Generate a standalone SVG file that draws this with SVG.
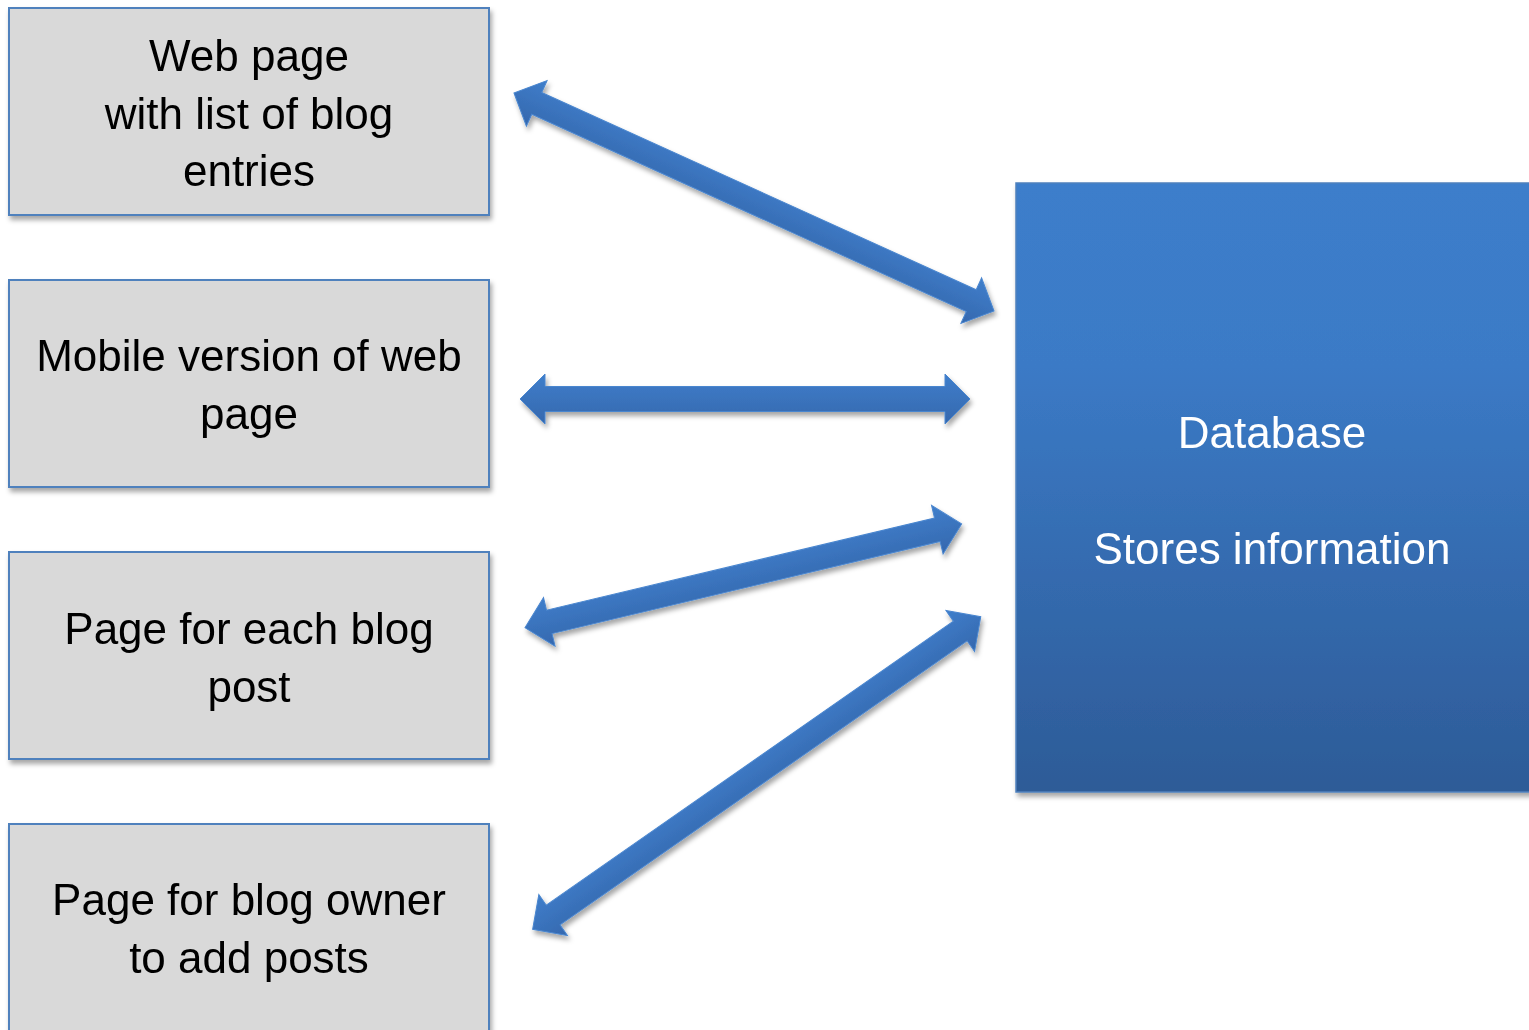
<svg xmlns="http://www.w3.org/2000/svg" width="1529" height="1030" viewBox="0 0 1529 1030">
<defs>
<style>
.box{fill:#d9d9d9;stroke:#4f81bd;stroke-width:2}
.lbl{font-family:"Liberation Sans",Arial,sans-serif;font-size:44px;fill:#000;text-anchor:middle}
.dbl{font-family:"Liberation Sans",Arial,sans-serif;font-size:44px;fill:#fff;text-anchor:middle}
.arr{fill:url(#ag);stroke:#4a86cf;stroke-width:1}
</style>
<linearGradient id="dbg" x1="0" y1="0" x2="0" y2="1">
<stop offset="0" stop-color="#3c7ecb"/>
<stop offset="0.3" stop-color="#3b7ac6"/>
<stop offset="1" stop-color="#2d5b97"/>
</linearGradient>
<linearGradient id="ag" x1="0" y1="0" x2="0" y2="1">
<stop offset="0" stop-color="#3f7ecb"/>
<stop offset="1" stop-color="#3568ae"/>
</linearGradient>
<filter id="sh" x="-10%" y="-10%" width="120%" height="130%">
<feDropShadow dx="2" dy="4" stdDeviation="2.5" flood-color="#000" flood-opacity="0.35"/>
</filter>
</defs>
<rect width="1529" height="1030" fill="#fff"/>

<g id="node-webpage" filter="url(#sh)">
<rect class="box" x="9" y="8" width="480" height="207"/>
<text class="lbl" x="249" y="71">Web page</text>
<text class="lbl" x="249" y="129">with list of blog</text>
<text class="lbl" x="249" y="186">entries</text>
</g>

<g id="node-mobile" filter="url(#sh)">
<rect class="box" x="9" y="280" width="480" height="207"/>
<text class="lbl" x="249" y="371">Mobile version of web</text>
<text class="lbl" x="249" y="429">page</text>
</g>

<g id="node-post" filter="url(#sh)">
<rect class="box" x="9" y="552" width="480" height="207"/>
<text class="lbl" x="249" y="644">Page for each blog</text>
<text class="lbl" x="249" y="702">post</text>
</g>

<g id="node-owner" filter="url(#sh)">
<rect class="box" x="9" y="824" width="480" height="230"/>
<text class="lbl" x="249" y="915">Page for blog owner</text>
<text class="lbl" x="249" y="973">to add posts</text>
</g>

<g id="node-database" filter="url(#sh)">
<rect x="1016" y="183" width="540" height="609" fill="url(#dbg)" stroke="#4f81bd" stroke-width="1.5"/>
<text class="dbl" x="1272" y="448">Database</text>
<text class="dbl" x="1272" y="564">Stores information</text>
</g>

<g id="connectors">
<g filter="url(#sh)">
<path class="arr" transform="translate(754,202) rotate(24.42)" d="M-263.6,0 L-238.6,-25 L-238.6,-12 L238.6,-12 L238.6,-25 L263.6,0 L238.6,25 L238.6,12 L-238.6,12 L-238.6,25 Z"/>
</g>
<g filter="url(#sh)">
<path class="arr" transform="translate(745,399)" d="M-225,0 L-200,-25 L-200,-12.5 L200,-12.5 L200,-25 L225,0 L200,25 L200,12.5 L-200,12.5 L-200,25 Z"/>
</g>
<g filter="url(#sh)">
<path class="arr" transform="translate(743.3,575.8) rotate(-13.36)" d="M-224.4,0 L-199.4,-25 L-199.4,-12 L199.4,-12 L199.4,-25 L224.4,0 L199.4,25 L199.4,12 L-199.4,12 L-199.4,25 Z"/>
</g>
<g filter="url(#sh)">
<path class="arr" transform="translate(756.7,773) rotate(-34.9)" d="M-273.2,0 L-248.2,-25 L-248.2,-12 L248.2,-12 L248.2,-25 L273.2,0 L248.2,25 L248.2,12 L-248.2,12 L-248.2,25 Z"/>
</g>
</g>
</svg>
